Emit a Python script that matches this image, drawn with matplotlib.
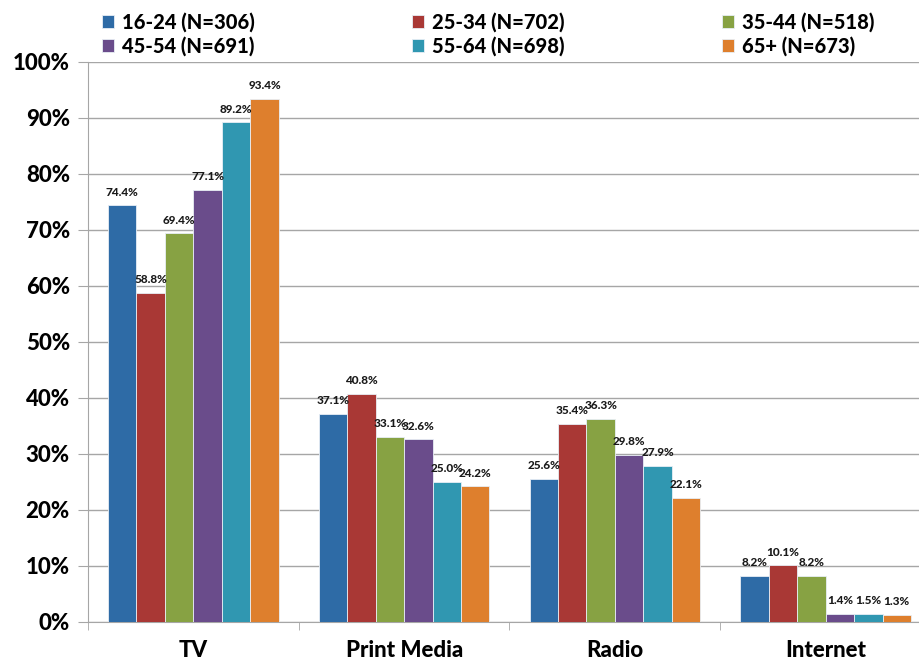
import numpy as np
import matplotlib
matplotlib.use("Agg")
import matplotlib.pyplot as plt

categories = ["TV", "Print Media", "Radio", "Internet"]
series = ["16-24 (N=306)", "25-34 (N=702)", "35-44 (N=518)",
          "45-54 (N=691)", "55-64 (N=698)", "65+ (N=673)"]
values = [
    [74.4, 37.1, 25.6, 8.2],
    [58.8, 40.8, 35.4, 10.1],
    [69.4, 33.1, 36.3, 8.2],
    [77.1, 32.6, 29.8, 1.4],
    [89.2, 25.0, 27.9, 1.5],
    [93.4, 24.2, 22.1, 1.3],
]
colors = ["#2E6BA6", "#A93835", "#87A243", "#6A4C8B", "#3097B1", "#DE7F2D"]

plt.rcParams["font.family"] = ["Lato", "DejaVu Sans"]

fig = plt.figure(figsize=(9.19, 6.62), dpi=100)
# axes extends a little past the right edge, like the cropped original
ax = fig.add_axes([88 / 919, 40 / 662, 843 / 919, 560 / 662])

x = np.arange(len(categories))
n = len(series)
bw = 0.81 / n
handles = []
for i, (name, vals) in enumerate(zip(series, values)):
    pos = x - 0.405 + bw * (i + 0.5)
    h = ax.bar(pos, vals, width=bw, color=colors[i], edgecolor="#E8EEF5",
               linewidth=0.6, label=name, zorder=3)
    handles.append(h)
    for px, v in zip(pos, vals):
        ax.text(px, v + 1.4, f"{v:.1f}%", ha="center", va="bottom",
                fontsize=8.5, fontweight="black", color="#1a1a1a", zorder=4)

ax.set_xlim(-0.5, 3.5)
ax.set_ylim(0, 100)
ax.set_yticks(np.arange(0, 101, 10))
ax.set_yticklabels([f"{t}%" for t in range(0, 101, 10)], fontsize=16, fontweight="black")
ax.yaxis.grid(True, color="#A6A6A6", linewidth=1.0, zorder=0)
ax.set_axisbelow(True)

ax.set_xticks(x)
ax.set_xticklabels(categories, fontsize=16, fontweight="black")
ax.tick_params(axis="x", length=0, pad=13)
ax.set_xticks(np.arange(-0.5, 4.0, 1.0), minor=True)
ax.tick_params(axis="x", which="minor", length=6, color="#A6A6A6", direction="out")
ax.tick_params(axis="y", length=7, color="#A6A6A6", pad=6)

for s in ["top", "right"]:
    ax.spines[s].set_visible(False)
for s in ["left", "bottom"]:
    ax.spines[s].set_color("#A6A6A6")

# row-major order: matplotlib fills legend columns first
order = [0, 3, 1, 4, 2, 5]
ax.legend([handles[k] for k in order], [series[k] for k in order],
          ncol=3, loc="upper left", bbox_to_anchor=(90 / 919, 1.0),
          bbox_transform=fig.transFigure, frameon=False,
          prop={"size": 14.5, "weight": "black"},
          handlelength=0.6, handleheight=0.6, handletextpad=0.4,
          columnspacing=7.8, labelspacing=0.2, borderaxespad=0.2)

fig.savefig("out.png", dpi=100)
